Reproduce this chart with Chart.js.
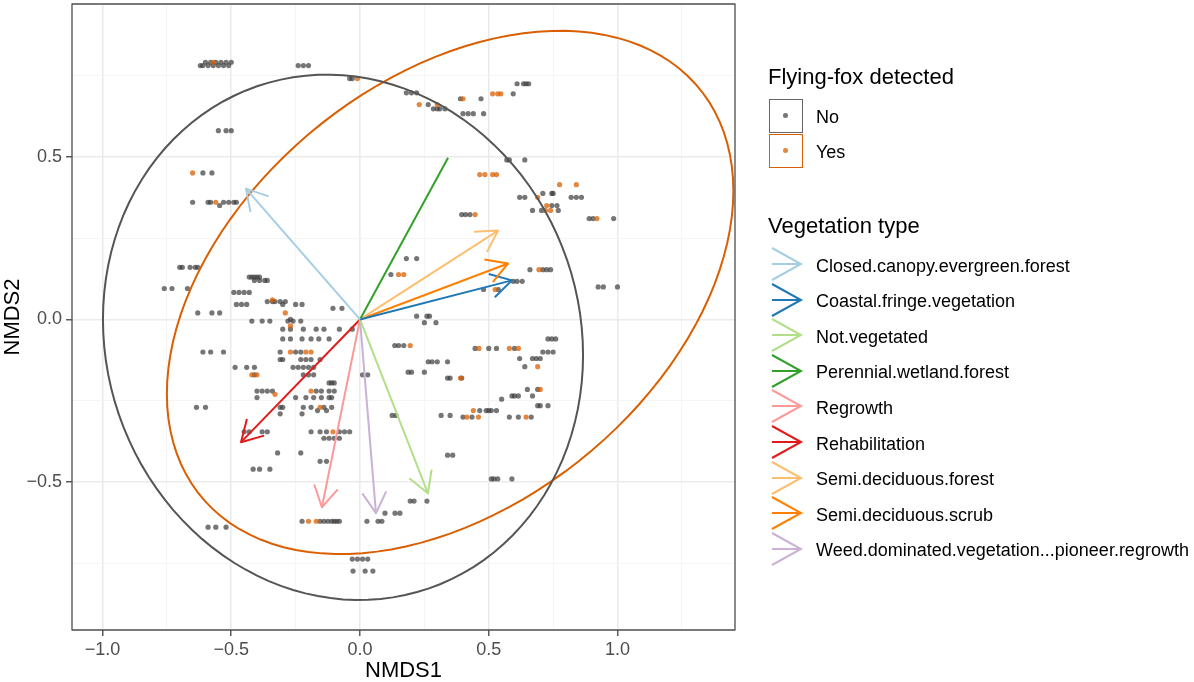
<!DOCTYPE html>
<html>
<head>
<meta charset="utf-8">
<script src="https://cdn.jsdelivr.net/npm/chart.js@4.4.0/dist/chart.umd.min.js"></script>
<style>
  body { margin: 0; background: #fff; }
  #wrap { position: relative; width: 1194px; height: 682px; font-family: 'Liberation Sans', Arial, sans-serif; }
  #ordination { position: absolute; left: 0; top: 0; }
  .lg { position: absolute; line-height: 1; white-space: nowrap; color: #000; }
  .key { position: absolute; box-sizing: border-box; width: 34px; height: 34px; border: 1.8px solid; background: #fff; }
  .dot { position: absolute; left: 13px; top: 13px; width: 4.5px; height: 4.5px; border-radius: 50%; }
</style>
</head>
<body>
<div id="wrap">
  <canvas id="ordination" width="1194" height="682"></canvas>
  <div id="legend"></div>
</div>
<script>
// ---- data ----
var xTicks = [-1.0, -0.5, 0.0, 0.5, 1.0];
var xMinor = [-0.75, -0.25, 0.25, 0.75, 1.25];
var yTicks = [-0.5, 0.0, 0.5];
var yMinor = [-0.75, -0.25, 0.25, 0.75];

var ffGroups = ['No', 'Yes'];
var ffColors = ['#555555', '#D95F02'];

// confidence ellipses per group: centre and covariance
var ellCx = [-0.066, 0.35];
var ellCy = [-0.055, 0.083];
var ellSxx = [0.869, 1.21];
var ellSyy = [0.651, 0.646];
var ellSxy = [-0.051, 0.343];

// site scores, flying-fox not detected
var noPts = [
  [-0.60,0.79],[-0.58,0.79],[-0.56,0.79],[-0.54,0.79],[-0.52,0.79],[-0.50,0.79],
  [-0.62,0.78],[-0.61,0.78],[-0.59,0.78],[-0.57,0.78],[-0.55,0.78],[-0.53,0.78],[-0.51,0.78],
  [-0.24,0.78],[-0.22,0.78],[-0.20,0.78],
  [-0.04,0.74],[-0.03,0.74],
  [-0.55,0.58],[-0.52,0.58],[-0.50,0.58],
  [-0.61,0.45],[-0.575,0.45],
  [-0.65,0.36],[-0.59,0.36],[-0.58,0.36],[-0.545,0.35],[-0.53,0.36],[-0.51,0.36],[-0.49,0.36],[-0.48,0.36],
  [-0.70,0.16],[-0.69,0.16],[-0.66,0.16],[-0.64,0.16],[-0.63,0.16],
  [-0.76,0.095],[-0.73,0.095],[-0.67,0.095],
  [-0.43,0.13],[-0.42,0.13],[-0.41,0.13],[-0.40,0.13],[-0.39,0.13],
  [-0.41,0.12],[-0.39,0.12],[-0.37,0.12],[-0.36,0.12],
  [-0.49,0.083],[-0.47,0.083],[-0.45,0.083],[-0.43,0.083],
  [-0.36,0.055],[-0.34,0.055],[-0.33,0.055],[-0.31,0.055],[-0.29,0.055],
  [-0.48,0.046],[-0.46,0.046],[-0.44,0.046],[-0.30,0.046],[-0.25,0.046],[-0.225,0.046],
  [-0.105,0.034],[-0.07,0.034],
  [-0.63,0.02],[-0.575,0.02],[-0.545,0.02],
  [-0.42,-0.005],[-0.38,-0.005],[-0.35,-0.005],[-0.28,-0.005],[-0.27,0.0],[-0.26,-0.005],[-0.23,-0.005],
  [-0.30,-0.03],[-0.27,-0.03],[-0.22,-0.03],[-0.17,-0.03],[-0.14,-0.03],[-0.08,-0.03],[-0.03,-0.03],
  [-0.30,-0.06],[-0.27,-0.06],[-0.225,-0.06],[-0.19,-0.06],[-0.16,-0.06],[-0.12,-0.06],
  [-0.61,-0.10],[-0.58,-0.10],[-0.53,-0.10],[-0.31,-0.10],[-0.25,-0.10],[-0.23,-0.10],
  [-0.31,-0.123],[-0.30,-0.123],[-0.23,-0.123],[-0.21,-0.123],[-0.19,-0.123],[-0.155,-0.123],
  [-0.485,-0.147],[-0.44,-0.147],[-0.41,-0.147],[-0.26,-0.147],[-0.24,-0.147],[-0.22,-0.147],[-0.20,-0.147],[-0.18,-0.147],
  [-0.41,-0.17],[-0.22,-0.17],[-0.20,-0.17],[-0.18,-0.17],[0.01,-0.17],[0.03,-0.17],
  [-0.12,-0.195],[-0.11,-0.195],[-0.10,-0.195],
  [-0.40,-0.22],[-0.38,-0.22],[-0.36,-0.22],[-0.34,-0.22],[-0.17,-0.22],[-0.15,-0.22],[-0.12,-0.22],[-0.10,-0.22],
  [-0.40,-0.24],[-0.25,-0.24],[-0.21,-0.24],[-0.18,-0.24],[-0.15,-0.24],[-0.12,-0.24],[-0.11,-0.24],
  [-0.635,-0.27],[-0.60,-0.27],[-0.31,-0.27],[-0.30,-0.27],[-0.22,-0.27],[-0.19,-0.27],[-0.14,-0.27],[-0.11,-0.27],
  [-0.165,-0.28],[-0.13,-0.28],
  [-0.31,-0.29],[-0.225,-0.29],
  [-0.45,-0.345],[-0.43,-0.345],[-0.38,-0.345],[-0.36,-0.345],[-0.19,-0.345],[-0.155,-0.345],[-0.13,-0.345],[-0.08,-0.345],[-0.06,-0.345],[-0.04,-0.345],
  [-0.14,-0.365],[-0.12,-0.365],[-0.10,-0.365],[-0.08,-0.365],
  [-0.32,-0.41],[-0.23,-0.41],
  [-0.155,-0.436],[-0.13,-0.436],
  [-0.415,-0.46],[-0.39,-0.46],[-0.35,-0.46],
  [0.34,-0.417],[0.36,-0.417],
  [0.195,-0.558],[0.21,-0.558],[0.26,-0.558],
  [0.097,-0.595],[0.136,-0.595],[0.155,-0.595],
  [-0.225,-0.62],[-0.155,-0.62],[-0.14,-0.62],[-0.125,-0.62],[-0.11,-0.62],[-0.10,-0.62],[-0.09,-0.62],[-0.08,-0.62],[0.027,-0.62],[0.07,-0.62],[0.085,-0.62],
  [-0.59,-0.638],[-0.56,-0.638],[-0.52,-0.638],
  [-0.03,-0.736],[-0.01,-0.736],[0.01,-0.736],[0.03,-0.736],
  [-0.027,-0.773],[0.02,-0.773],[0.05,-0.773],
  [0.22,0.01],[0.26,0.01],[0.27,0.01],
  [0.25,-0.01],[0.295,-0.01],
  [0.135,-0.08],[0.15,-0.08],[0.17,-0.08],
  [0.447,-0.089],[0.50,-0.089],[0.53,-0.089],[0.60,-0.089],
  [0.73,-0.06],[0.745,-0.06],[0.76,-0.06],
  [0.71,-0.10],[0.73,-0.10],[0.75,-0.10],
  [0.62,-0.12],[0.67,-0.12],[0.685,-0.12],[0.70,-0.12],
  [0.265,-0.13],[0.28,-0.13],[0.30,-0.13],[0.34,-0.13],
  [0.64,-0.145],
  [0.187,-0.162],[0.20,-0.162],[0.25,-0.162],
  [0.34,-0.18],[0.35,-0.18],[0.395,-0.18],
  [0.65,-0.215],[0.69,-0.215],
  [0.67,-0.235],[0.59,-0.235],[0.60,-0.235],[0.615,-0.235],
  [0.55,-0.245],
  [0.69,-0.265],[0.70,-0.265],[0.73,-0.265],
  [0.465,-0.28],[0.49,-0.28],[0.50,-0.28],[0.51,-0.28],[0.53,-0.28],
  [0.125,-0.295],[0.14,-0.295],[0.315,-0.295],[0.35,-0.295],
  [0.40,-0.30],[0.435,-0.30],[0.58,-0.30],[0.615,-0.30],[0.665,-0.30],
  [0.51,-0.49],[0.52,-0.49],[0.535,-0.49],[0.59,-0.49],
  [0.61,0.724],[0.635,0.724],[0.645,0.724],[0.655,0.724],
  [0.18,0.696],[0.20,0.696],[0.22,0.696],
  [0.595,0.693],
  [0.39,0.678],[0.47,0.678],
  [0.265,0.66],
  [0.285,0.647],[0.30,0.647],[0.31,0.647],[0.33,0.647],
  [0.40,0.632],[0.42,0.632],[0.44,0.632],[0.48,0.632],
  [0.57,0.49],[0.58,0.49],[0.64,0.49],
  [0.71,0.387],[0.745,0.387],[0.75,0.387],
  [0.62,0.375],[0.64,0.375],[0.82,0.375],[0.84,0.375],[0.86,0.375],
  [0.745,0.35],[0.765,0.35],
  [0.67,0.335],[0.705,0.335],[0.77,0.335],
  [0.395,0.322],[0.41,0.322],[0.427,0.322],
  [0.89,0.31],[0.905,0.31],[0.985,0.31],
  [0.18,0.187],[0.22,0.187],
  [0.12,0.138],
  [0.66,0.153],[0.71,0.153],[0.725,0.153],[0.74,0.153],
  [0.595,0.117],[0.61,0.117],[0.63,0.117],
  [0.48,0.092],[0.537,0.092],
  [0.925,0.10],[0.945,0.10],[1.0,0.10]
];

// site scores, flying-fox detected
var yesPts = [
  [-0.57,0.79],[-0.01,0.74],[-0.65,0.45],[-0.56,0.36],[-0.34,0.06],[-0.29,0.02],[-0.27,-0.02],
  [-0.27,-0.10],[-0.21,-0.10],[-0.19,-0.10],[-0.42,-0.17],[-0.40,-0.17],[-0.19,-0.22],[-0.33,-0.23],
  [-0.155,-0.27],[-0.105,-0.345],[-0.20,-0.62],[-0.17,-0.62],
  [0.195,-0.08],[0.462,-0.089],[0.58,-0.089],[0.615,-0.089],[0.69,-0.145],[0.39,-0.18],[0.70,-0.215],
  [0.44,-0.28],[0.415,-0.30],[0.46,-0.30],[0.645,-0.30],
  [0.515,0.693],[0.535,0.693],[0.547,0.693],[0.40,0.678],[0.23,0.66],[0.30,0.66],
  [0.465,0.445],[0.485,0.445],[0.515,0.445],[0.53,0.445],[0.775,0.414],[0.84,0.414],
  [0.69,0.375],[0.725,0.35],[0.72,0.335],[0.74,0.335],[0.447,0.322],[0.92,0.31],
  [0.15,0.138],[0.17,0.138],[0.695,0.153],[0.525,0.092]
];

// vegetation vectors (envfit arrows)
var vegTypes = ['Closed.canopy.evergreen.forest', 'Coastal.fringe.vegetation', 'Not.vegetated',
  'Perennial.wetland.forest', 'Regrowth', 'Rehabilitation', 'Semi.deciduous.forest',
  'Semi.deciduous.scrub', 'Weed.dominated.vegetation...pioneer.regrowth'];
var vegX = [-0.443, 0.59, 0.264, 0.342, -0.148, -0.462, 0.536, 0.575, 0.062];
var vegY = [0.402, 0.12, -0.534, 0.497, -0.577, -0.377, 0.273, 0.172, -0.595];
var vegColors = ['#A6CEE3', '#1F78B4', '#B2DF8A', '#33A02C', '#FB9A99', '#E31A1C', '#FDBF6F', '#FF7F00', '#CAB2D6'];
var noHead = ['Perennial.wetland.forest'];

var FONT = "'Liberation Sans', Arial, sans-serif";

function isMajor(v){
  return Math.abs(v * 2 - Math.round(v * 2)) < 1e-9;
}
function fmt(v){
  return v.toFixed(1).replace('-', '\u2212');
}

function ellipsePoints(g){
  var l11 = Math.sqrt(ellSxx[g]);
  var l21 = ellSxy[g] / l11;
  var l22 = Math.sqrt(ellSyy[g] - l21 * l21);
  var pts = [];
  for (var k = 0; k <= 120; k++){
    var t = 2 * Math.PI * k / 120;
    pts.push({x: ellCx[g] + l11 * Math.cos(t), y: ellCy[g] + l21 * Math.cos(t) + l22 * Math.sin(t)});
  }
  return pts;
}

function toXY(arr){
  return arr.map(function(p){ return {x: p[0], y: p[1]}; });
}

var datasets = [
  {label: 'No', data: toXY(noPts), pointRadius: 2.6, pointBorderWidth: 0,
   pointBackgroundColor: 'rgba(60,60,60,0.7)', order: 5},
  {label: 'Yes', data: toXY(yesPts), pointRadius: 2.6, pointBorderWidth: 0,
   pointBackgroundColor: 'rgba(217,95,2,0.75)', order: 4}
];
ffGroups.forEach(function(g, i){
  datasets.push({label: g + ' ellipse', data: ellipsePoints(i), showLine: true, pointRadius: 0,
    borderColor: ffColors[i], borderWidth: 2, fill: false, order: 3});
});
vegTypes.forEach(function(v, i){
  datasets.push({label: v, data: [{x: 0, y: 0}, {x: vegX[i], y: vegY[i]}], showLine: true,
    pointRadius: 0, borderColor: vegColors[i], borderWidth: 2, fill: false, order: 1});
});

var arrowHeads = {
  id: 'arrowHeads',
  afterDatasetsDraw: function(chart){
    var ctx = chart.ctx, sx = chart.scales.x, sy = chart.scales.y;
    var x0 = sx.getPixelForValue(0), y0 = sy.getPixelForValue(0);
    ctx.save();
    ctx.lineWidth = 2;
    ctx.lineJoin = 'round';
    vegTypes.forEach(function(name, i){
      if (noHead.indexOf(name) !== -1) return;
      var tx = sx.getPixelForValue(vegX[i]), ty = sy.getPixelForValue(vegY[i]);
      var a = Math.atan2(ty - y0, tx - x0), len = 24, sp = Math.PI / 6;
      ctx.strokeStyle = vegColors[i];
      ctx.beginPath();
      ctx.moveTo(tx - len * Math.cos(a - sp), ty - len * Math.sin(a - sp));
      ctx.lineTo(tx, ty);
      ctx.lineTo(tx - len * Math.cos(a + sp), ty - len * Math.sin(a + sp));
      ctx.stroke();
    });
    var ca = chart.chartArea;
    ctx.strokeStyle = '#4d4d4d';
    ctx.lineWidth = 1.3;
    ctx.strokeRect(ca.left, ca.top, ca.right - ca.left, ca.bottom - ca.top);
    ctx.restore();
  }
};

function gridOpts(){
  return {
    color: function(c){ return isMajor(c.tick.value) ? '#EBEBEB' : '#F4F4F4'; },
    lineWidth: function(c){ return isMajor(c.tick.value) ? 1.6 : 0.9; },
    tickLength: 6,
    tickColor: function(c){ return isMajor(c.tick.value) ? '#333333' : 'rgba(0,0,0,0)'; },
    tickWidth: 1.2
  };
}

new Chart(document.getElementById('ordination').getContext('2d'), {
  type: 'scatter',
  data: {datasets: datasets},
  options: {
    responsive: false,
    animation: false,
    events: [],
    layout: {padding: {left: 0, top: 3, right: 459, bottom: 0}},
    plugins: {legend: {display: false}, tooltip: {enabled: false}},
    scales: {
      x: {
        type: 'linear', min: -1.1184, max: 1.4563,
        afterBuildTicks: function(s){ s.ticks = xTicks.concat(xMinor).sort(function(a, b){ return a - b; }).map(function(v){ return {value: v}; }); },
        afterFit: function(s){ s.height = 52; s.paddingLeft = 0; s.paddingRight = 0; },
        ticks: {autoSkip: false, maxRotation: 0, padding: 3, color: '#4D4D4D',
          font: {family: FONT, size: 18},
          callback: function(v){ return isMajor(v) ? fmt(v) : ''; }},
        grid: gridOpts(),
        border: {display: false},
        title: {display: true, text: 'NMDS1', color: '#000', font: {family: FONT, size: 22, lineHeight: 1},
          padding: {top: 0, bottom: 0}}
      },
      y: {
        type: 'linear', min: -0.954, max: 0.969,
        afterBuildTicks: function(s){ s.ticks = yTicks.concat(yMinor).sort(function(a, b){ return a - b; }).map(function(v){ return {value: v}; }); },
        afterFit: function(s){ s.width = 72; s.paddingTop = 0; s.paddingBottom = 0; },
        ticks: {autoSkip: false, padding: 4, color: '#4D4D4D',
          font: {family: FONT, size: 18},
          callback: function(v){ return isMajor(v) ? fmt(v) : ''; }},
        grid: gridOpts(),
        border: {display: false},
        title: {display: true, text: 'NMDS2', color: '#000', font: {family: FONT, size: 22, lineHeight: 1},
          padding: {top: 2, bottom: 0}}
      }
    }
  },
  plugins: [arrowHeads]
});

// ---- legend ----
var legend = document.getElementById('legend');
function addText(text, left, top, size){
  var d = document.createElement('div');
  d.className = 'lg';
  d.style.left = left + 'px';
  d.style.top = top + 'px';
  d.style.fontSize = size + 'px';
  d.textContent = text;
  legend.appendChild(d);
}

addText('Flying-fox detected', 768, 65.5, 22);
ffGroups.forEach(function(g, i){
  var box = document.createElement('div');
  box.className = 'key';
  box.style.left = '769px';
  box.style.top = (99 + i * 35) + 'px';
  box.style.borderColor = ffColors[i] === '#555555' ? '#666666' : ffColors[i];
  var dot = document.createElement('div');
  dot.className = 'dot';
  dot.style.background = i === 0 ? 'rgba(60,60,60,0.7)' : 'rgba(217,95,2,0.75)';
  box.appendChild(dot);
  legend.appendChild(box);
  addText(g, 816, 108 + i * 35, 18);
});

addText('Vegetation type', 768, 214.7, 22);
vegTypes.forEach(function(v, i){
  var cy = 264 + i * 35.6;
  var svg = document.createElementNS('http://www.w3.org/2000/svg', 'svg');
  svg.setAttribute('width', '36');
  svg.setAttribute('height', '36');
  svg.style.position = 'absolute';
  svg.style.left = '770px';
  svg.style.top = (cy - 18) + 'px';
  var path = document.createElementNS('http://www.w3.org/2000/svg', 'path');
  path.setAttribute('d', 'M2,2 L31,18 L2,34 M2,18 L31,18');
  path.setAttribute('fill', 'none');
  path.setAttribute('stroke', vegColors[i]);
  path.setAttribute('stroke-width', '2');
  svg.appendChild(path);
  legend.appendChild(svg);
  addText(v, 816, cy + 7.7 - 15.2, 18);
});
</script>
</body>
</html>
